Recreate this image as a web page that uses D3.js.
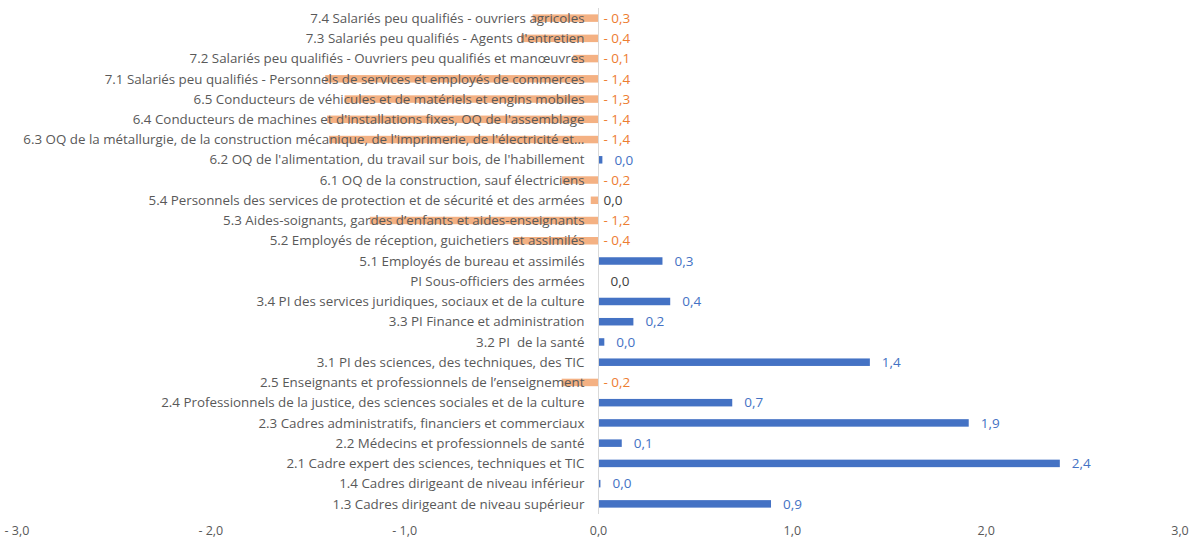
<!DOCTYPE html>
<html>
<head>
<meta charset="utf-8">
<script src="https://cdn.jsdelivr.net/npm/d3@7"></script>
<style>
  body { margin: 0; background: #fff; }
  svg text { font-family: "Open Sans", "Liberation Sans", sans-serif; white-space: pre; }
</style>
</head>
<body>
<div id="chart"></div>
<script>
// categories, top to bottom
const categories = [
  "7.4 Salariés peu qualifiés - ouvriers agricoles",
  "7.3 Salariés peu qualifiés - Agents d'entretien",
  "7.2 Salariés peu qualifiés - Ouvriers peu qualifiés et manœuvres",
  "7.1 Salariés peu qualifiés - Personnels de services et employés de commerces",
  "6.5 Conducteurs de véhicules et de matériels et engins mobiles",
  "6.4 Conducteurs de machines et d'installations fixes, OQ de l'assemblage",
  "6.3 OQ de la métallurgie, de la construction mécanique, de l'imprimerie, de l'électricité et…",
  "6.2 OQ de l'alimentation, du travail sur bois, de l'habillement",
  "6.1 OQ de la construction, sauf électriciens",
  "5.4 Personnels des services de protection et de sécurité et des armées",
  "5.3 Aides-soignants, gardes d’enfants et aides-enseignants",
  "5.2 Employés de réception, guichetiers et assimilés",
  "5.1 Employés de bureau et assimilés",
  "PI Sous-officiers des armées",
  "3.4 PI des services juridiques, sociaux et de la culture",
  "3.3 PI Finance et administration",
  "3.2 PI  de la santé",
  "3.1 PI des sciences, des techniques, des TIC",
  "2.5 Enseignants et professionnels de l’enseignement",
  "2.4 Professionnels de la justice, des sciences sociales et de la culture",
  "2.3 Cadres administratifs, financiers et commerciaux",
  "2.2 Médecins et professionnels de santé",
  "2.1 Cadre expert des sciences, techniques et TIC",
  "1.4 Cadres dirigeant de niveau inférieur",
  "1.3 Cadres dirigeant de niveau supérieur"
];

const values = [
  -0.34, -0.40, -0.13, -1.41, -1.31, -1.40, -1.39, 0.02, -0.19, -0.04,
  -1.18, -0.44, 0.33, 0.0, 0.37, 0.18, 0.03, 1.40, -0.19, 0.69,
  1.91, 0.12, 2.38, 0.01, 0.89
];

const xTicks = [-3, -2, -1, 0, 1, 2, 3];

const width = 1189, height = 540;
const blue = "#4472C4", orangeBar = "#F4B183", orangeText = "#ED7D31", grey = "#595959";

const svg = d3.select("#chart").append("svg")
  .attr("width", width)
  .attr("height", height);

const x = d3.scaleLinear().domain([-3, 3]).range([17, 1180]);
const y = d3.scaleBand().domain(categories).range([8, 514]).padding(0);

const barH = 7.5;
const data = categories.map((c, i) => ({ cat: c, value: values[i] }));

// bars
svg.selectAll("rect.bar")
  .data(data)
  .enter()
  .append("rect")
  .attr("class", "bar")
  .attr("x", d => x(Math.min(0, d.value)))
  .attr("width", d => Math.abs(x(d.value) - x(0)))
  .attr("y", d => y(d.cat) + y.bandwidth() / 2 - barH / 2)
  .attr("height", barH)
  .attr("fill", d => d.value < 0 ? orangeBar : blue);

// zero line
svg.append("line")
  .attr("x1", x(0)).attr("x2", x(0))
  .attr("y1", 8).attr("y2", 514)
  .attr("stroke", "#D9D9D9")
  .attr("stroke-width", 1);

// category labels (drawn over the negative bars)
svg.selectAll("text.cat")
  .data(data)
  .enter()
  .append("text")
  .attr("class", "cat")
  .attr("x", x(0) - 14)
  .attr("y", d => y(d.cat) + y.bandwidth() / 2)
  .attr("dy", "0.35em")
  .attr("text-anchor", "end")
  .attr("fill", grey)
  .style("font-size", "13.35px")
  .text(d => d.cat);

// value labels
function fmt(v) {
  const s = Math.abs(v).toFixed(1).replace(".", ",");
  return (v < 0 && s !== "0,0") ? "- " + s : s;
}
function labelColor(v) {
  if (fmt(v) === "0,0" && v <= 0) return "#404040";
  return v < 0 ? orangeText : blue;
}

svg.selectAll("text.val")
  .data(data)
  .enter()
  .append("text")
  .attr("class", "val")
  .attr("x", d => d.value < 0 ? x(0) + 5 : x(d.value) + 12)
  .attr("y", d => y(d.cat) + y.bandwidth() / 2)
  .attr("dy", "0.35em")
  .attr("fill", d => labelColor(d.value))
  .style("font-size", "13.5px")
  .text(d => fmt(d.value));

// x axis labels
svg.selectAll("text.tick")
  .data(xTicks)
  .enter()
  .append("text")
  .attr("class", "tick")
  .attr("x", d => x(d))
  .attr("y", 531)
  .attr("dy", "0.35em")
  .attr("text-anchor", "middle")
  .attr("fill", grey)
  .style("font-size", "12.5px")
  .text(d => (d < 0 ? "- " : "") + Math.abs(d).toFixed(1).replace(".", ","));
</script>
</body>
</html>
